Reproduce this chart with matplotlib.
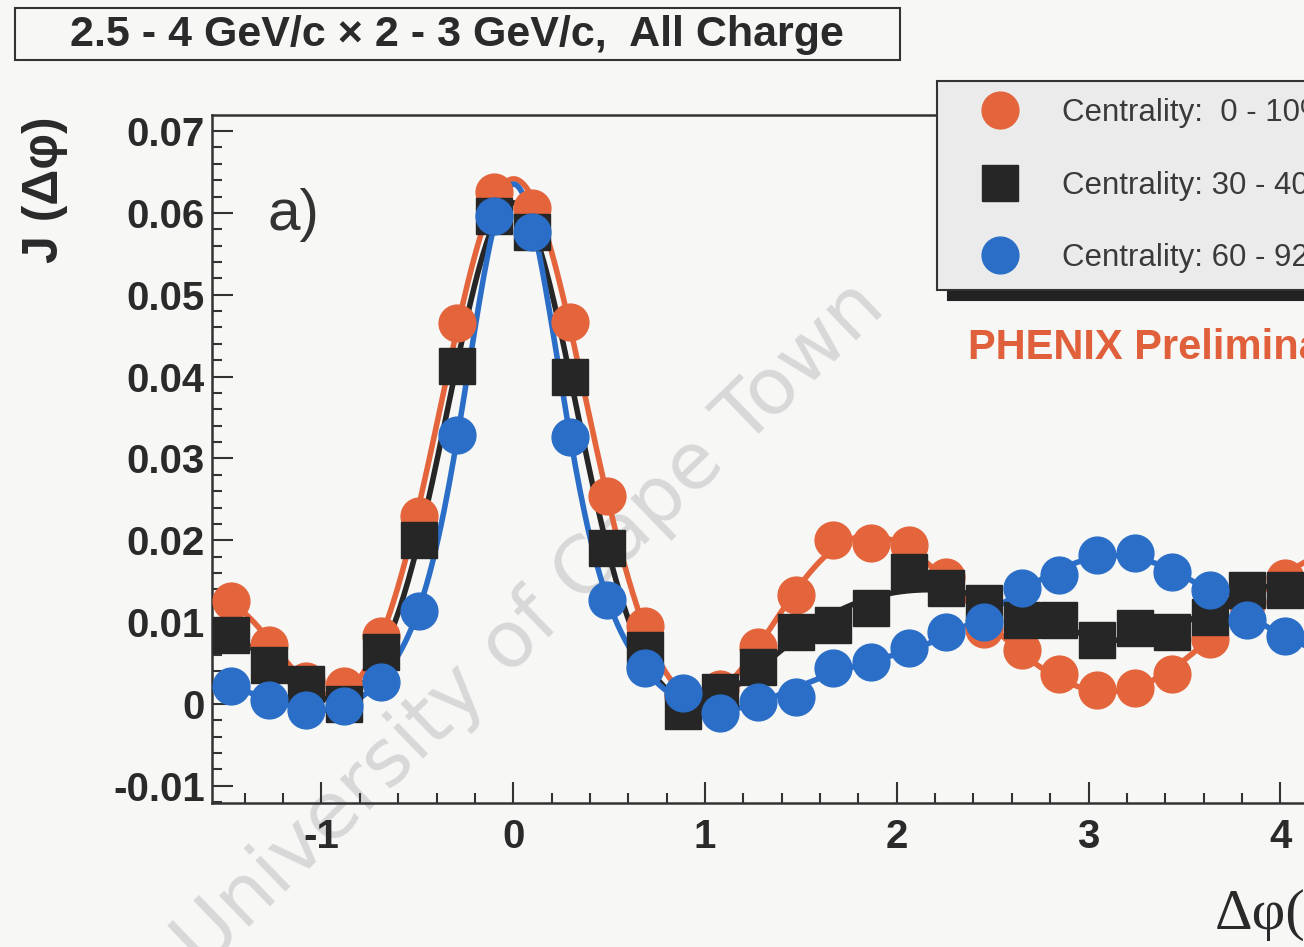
import numpy as np
import matplotlib
matplotlib.use("Agg")
import matplotlib.pyplot as plt
from matplotlib.patches import Rectangle
from matplotlib.ticker import MultipleLocator

plt.rcParams["axes.unicode_minus"] = False

# bin index -> bin centre in delta phi (32 bins over -pi/2 .. 3pi/2)
bins = np.arange(32)
dphi = -np.pi / 2 + (bins + 0.5) * np.pi / 16

# J(dphi), one list per centrality class
j_0_10 = [0.0126, 0.0072, 0.0028, 0.0022, 0.0083, 0.0230, 0.0465, 0.0625,
          0.0606, 0.0467, 0.0254, 0.0095, 0.0010, 0.0018, 0.0070, 0.0133,
          0.0200, 0.0197, 0.0194, 0.0155, 0.0092, 0.0066, 0.0037, 0.0017,
          0.0020, 0.0037, 0.0080, 0.0125, 0.0154, 0.0192, 0.0197, 0.0200]
j_30_40 = [0.0084, 0.0048, 0.0024, 0.0000, 0.0064, 0.0200, 0.0413, 0.0596,
           0.0577, 0.0400, 0.0190, 0.0066, -0.0008, 0.0015, 0.0045, 0.0088,
           0.0097, 0.0117, 0.0161, 0.0142, 0.0124, 0.0103, 0.0103, 0.0078,
           0.0093, 0.0088, 0.0106, 0.0139, 0.0139, 0.0155, 0.0120, 0.0100]
j_60_92 = [0.0022, 0.0005, -0.0007, -0.0003, 0.0027, 0.0114, 0.0329, 0.0596,
           0.0577, 0.0326, 0.0127, 0.0044, 0.0013, -0.0011, 0.0002, 0.0009,
           0.0044, 0.0051, 0.0068, 0.0088, 0.0100, 0.0142, 0.0158, 0.0182,
           0.0184, 0.0161, 0.0139, 0.0103, 0.0083, 0.0068, 0.0051, 0.0044]

labels = ["Centrality:  0 - 10%", "Centrality: 30 - 40%", "Centrality: 60 - 92%"]
colors = ["#e4643c", "#262626", "#2a6ec8"]
markers = ["o", "s", "o"]
msizes = [26.5, 25.5, 26.5]

bg = "#f7f7f5"
fig = plt.figure(figsize=(13.04, 9.47), dpi=100, facecolor=bg)
ax = fig.add_axes([0.1626, 0.152, 0.924, 0.7265])
ax.set_facecolor("none")

x_lo, x_hi = -np.pi / 2, 3 * np.pi / 2


# fit: near-side gaussian + cosine series over the plotted range, sigma from a scan
def basis(x, sigma, nmax=9):
    t = (x - x_lo) / (x_hi - x_lo)
    g = np.exp(-x ** 2 / (2 * sigma ** 2))
    return np.column_stack([g] + [np.cos(n * np.pi * t) for n in range(nmax + 1)])


def fit_curve(x, y):
    y = np.asarray(y)
    best = None
    for s in np.linspace(0.2, 0.5, 61):
        b = basis(x, s)
        coef, *_ = np.linalg.lstsq(b, y, rcond=None)
        r = np.sum((b @ coef - y) ** 2)
        if best is None or r < best[0]:
            best = (r, s, coef)
    xf = np.linspace(x_lo, x_hi, 800)
    return xf, basis(xf, best[1]) @ best[2]


handles = []
for y, c, m, ms, lab in zip([j_0_10, j_30_40, j_60_92], colors, markers, msizes, labels):
    xf, yf = fit_curve(dphi, y)
    ax.plot(xf, yf, color=c, lw=4, zorder=2)
    h, = ax.plot(dphi, y, ls="none", marker=m, ms=ms, color=c, mec=c, zorder=3, label=lab)
    handles.append(h)

ax.set_xlim(x_lo, x_hi)
ax.set_ylim(-0.0121, 0.07195)
ax.xaxis.set_major_locator(MultipleLocator(1))
ax.xaxis.set_minor_locator(MultipleLocator(0.2))
ax.yaxis.set_minor_locator(MultipleLocator(0.002))
ax.set_yticks([-0.01, 0, 0.01, 0.02, 0.03, 0.04, 0.05, 0.06, 0.07])
ax.set_yticklabels(["-0.01", "0", "0.01", "0.02", "0.03", "0.04", "0.05", "0.06", "0.07"])
ax.tick_params(which="both", direction="in", top=False, right=False, color="#333333", width=1.5)
ax.tick_params(which="major", length=15)
ax.tick_params(which="minor", length=7.5)
ax.tick_params(axis="x", pad=11)
ax.tick_params(axis="y", pad=5)
for t in ax.get_xticklabels() + ax.get_yticklabels():
    t.set_fontfamily(["Liberation Sans", "DejaVu Sans"])
    t.set_fontweight("bold")
    t.set_fontsize(29)
    t.set_color("#2a2a2a")
for s in ax.spines.values():
    s.set_color("#333333")
    s.set_linewidth(1.8)

leg = ax.legend(handles=handles, loc="upper left",
                bbox_to_anchor=(937 / 1304, 1 - 81 / 947), bbox_transform=fig.transFigure,
                prop={"family": ["Liberation Sans", "DejaVu Sans"], "size": 22.5},
                labelcolor="#3a3a3a", frameon=True, fancybox=False,
                facecolor="#ebebeb", edgecolor="#333333", framealpha=1,
                shadow={"ox": 8, "oy": -7, "color": "#222222", "alpha": 1},
                borderpad=0.55, handlelength=2.95, handletextpad=0.5,
                labelspacing=1.36, borderaxespad=0)
leg.get_frame().set_linewidth(1.5)

# title box
fig.patches.append(Rectangle((15 / 1304, 1 - 60 / 947), 885 / 1304, 52 / 947,
                             transform=fig.transFigure, fill=False,
                             edgecolor="#333333", lw=1.5))
fig.text(457 / 1304, 1 - 35 / 947, "2.5 - 4 GeV/c × 2 - 3 GeV/c,  All Charge",
         ha="center", va="center", fontsize=31, fontweight="bold", color="#2a2a2a",
         family=["Liberation Sans Narrow", "Liberation Sans", "DejaVu Sans"])

fig.text(968 / 1304, 1 - 348 / 947, "PHENIX Preliminary", ha="left", va="center",
         fontsize=30, fontweight="bold", color="#e0603c",
         family=["Liberation Sans", "DejaVu Sans"])
fig.text(268 / 1304, 1 - 215 / 947, "a)", ha="left", va="center", fontsize=42,
         color="#333333", family=["Liberation Sans", "DejaVu Sans"])
fig.text(45 / 1304, 1 - 190 / 947, "J (Δφ)", rotation=90, ha="center", va="center",
         fontsize=36, fontweight="bold", color="#2a2a2a",
         family=["Liberation Sans", "DejaVu Sans"])
fig.text(1215 / 1304, 1 - 915 / 947, "Δφ(rad)", ha="left", va="center", fontsize=42,
         color="#2a2a2a", family=["Liberation Serif", "DejaVu Serif"])

# scanned-thesis watermark
fig.text(530 / 1304, 1 - 625 / 947, "University of Cape Town", rotation=44,
         ha="center", va="center", fontsize=57, color="#d8d8d8", zorder=-1,
         family=["DejaVu Sans"])

fig.savefig("out.png", dpi=100, facecolor=bg)
